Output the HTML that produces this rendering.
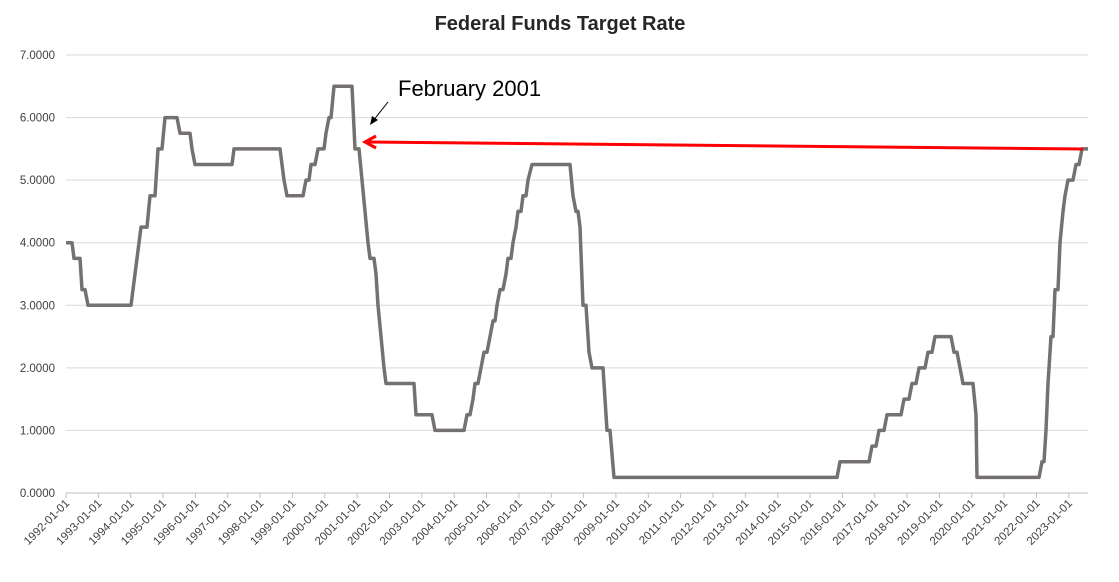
<!DOCTYPE html>
<html><head><meta charset="utf-8"><style>
body{margin:0;background:#fff;}
svg{display:block;font-family:"Liberation Sans",sans-serif;}
</style></head><body>
<svg width="1119" height="582" viewBox="0 0 1119 582" xmlns="http://www.w3.org/2000/svg">
<rect width="1119" height="582" fill="#fff"/>
<text x="560" y="30" text-anchor="middle" font-size="20" font-weight="bold" fill="#262626">Federal Funds Target Rate</text>
<g id="grid" stroke="#d9d9d9" stroke-width="1"></g>
<g id="ylab" font-size="11.5" fill="#404040" text-anchor="end"></g>
<g id="xax" stroke="#bfbfbf" stroke-width="1"></g>
<g id="xlab" font-size="11.5" fill="#404040" text-anchor="end"></g>
<polyline id="series" fill="none" stroke="#767171" stroke-width="3.5" stroke-linejoin="round"/>
<line x1="1083" y1="149" x2="368" y2="142" stroke="#ff0000" stroke-width="3"/>
<polyline points="376,136 365,142 376,148" fill="none" stroke="#ff0000" stroke-width="3"/>
<line x1="388" y1="102" x2="373" y2="121" stroke="#000" stroke-width="1"/>
<polygon points="370,125 372,116 378,120" fill="#000"/>
<text x="398" y="96" font-size="22" fill="#000">February 2001</text>
</svg>
<script>
var ns="http://www.w3.org/2000/svg";
function Y(v){return 493-v*62.57;}
var g=document.getElementById('grid'),yl=document.getElementById('ylab');
for(var i=0;i<=7;i++){var y=Y(i);
 if(i>0){var l=document.createElementNS(ns,'line');l.setAttribute('x1',66);l.setAttribute('x2',1088);l.setAttribute('y1',y);l.setAttribute('y2',y);g.appendChild(l);}
 var t=document.createElementNS(ns,'text');t.setAttribute('x',55);t.setAttribute('y',y+4);t.textContent=i.toFixed(4);yl.appendChild(t);}
var xa=document.getElementById('xax'),xl=document.getElementById('xlab');
var l=document.createElementNS(ns,'line');l.setAttribute('x1',66);l.setAttribute('x2',1088);l.setAttribute('y1',493);l.setAttribute('y2',493);xa.appendChild(l);
for(var k=0;k<=31;k++){var x=66+k*32.35;
 var tk=document.createElementNS(ns,'line');tk.setAttribute('x1',x);tk.setAttribute('x2',x);tk.setAttribute('y1',493);tk.setAttribute('y2',498);xa.appendChild(tk);
 var t=document.createElementNS(ns,'text');t.setAttribute('transform','translate('+(x+4)+',504) rotate(-45)');t.textContent=(1992+k)+'-01-01';xl.appendChild(t);}
var d=[66,4,72,4,74,3.75,80,3.75,82,3.25,85,3.25,88,3,131,3,133,3.25,135,3.5,137,3.75,141,4.25,147,4.25,150,4.75,155,4.75,158,5.5,162,5.5,165,6,177,6,180,5.75,190,5.75,192,5.5,195,5.25,232,5.25,234,5.5,280,5.5,282,5.25,284,5,287,4.75,303,4.75,306,5,309,5,311,5.25,315,5.25,318,5.5,324,5.5,326,5.75,329,6,331,6,334,6.5,352,6.5,355,5.5,359,5.5,362,5,368,4,370,3.75,374,3.75,376,3.5,378,3,381,2.5,384,2,386,1.75,414,1.75,416,1.25,432,1.25,435,1,464,1,467,1.25,470,1.25,473,1.5,475,1.75,478,1.75,481,2,484,2.25,487,2.25,490,2.5,493,2.75,495,2.75,497,3,500,3.25,503,3.25,506,3.5,508,3.75,511,3.75,513,4,516,4.25,518,4.5,521,4.5,523,4.75,526,4.75,528,5,532,5.25,570,5.25,573,4.75,576,4.5,578,4.5,580,4.25,583,3,586,3,589,2.25,592,2,603,2,607,1,610,1,614,0.25,837,0.25,840,0.5,869,0.5,872,0.75,876,0.75,879,1,884,1,887,1.25,901,1.25,904,1.5,909,1.5,912,1.75,916,1.75,919,2,925,2,928,2.25,932,2.25,935,2.5,951,2.5,954,2.25,957,2.25,960,2,963,1.75,973,1.75,976,1.25,977,0.25,1039,0.25,1042,0.5,1044,0.5,1046,1,1048,1.75,1051,2.5,1053,2.5,1055,3.25,1058,3.25,1060,4,1063,4.5,1065,4.75,1068,5,1073,5,1076,5.25,1079,5.25,1082,5.5,1088,5.5];
var p=[];for(var i=0;i<d.length;i+=2)p.push(d[i]+','+Y(d[i+1]).toFixed(1));
document.getElementById('series').setAttribute('points',p.join(' '));
</script>
</body></html>
